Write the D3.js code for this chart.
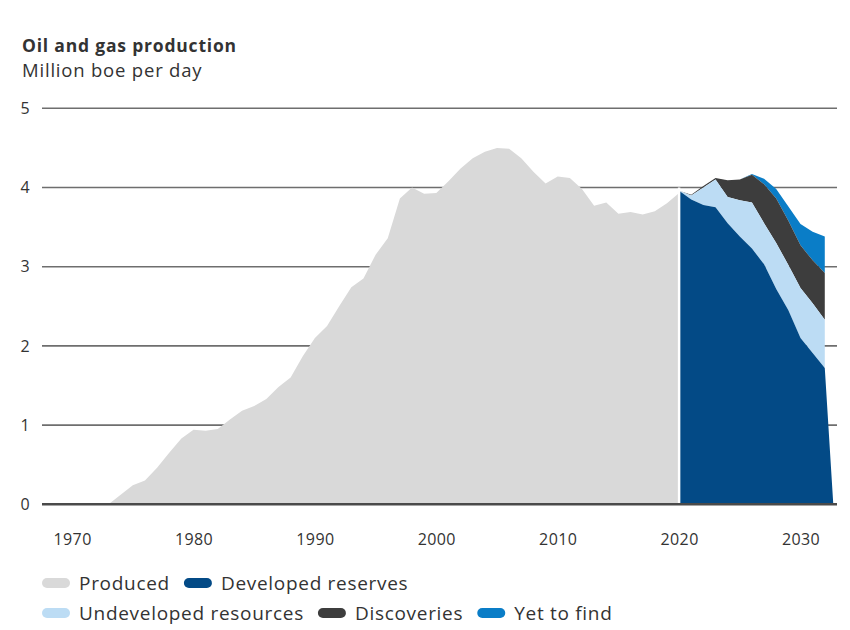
<!DOCTYPE html>
<html>
<head>
<meta charset="utf-8">
<script src="https://cdn.jsdelivr.net/npm/d3@7"></script>
<style>
  body { margin: 0; background: #fff; }
  svg { display: block; font-family: "Open Sans", Lato, sans-serif; }
</style>
</head>
<body>
<svg id="chart" width="850" height="630"></svg>
<script>
// ---------- DATA ----------
const title = "Oil and gas production";
const subtitle = "Million boe per day";
const yTicks = [0, 1, 2, 3, 4, 5];
const xTicks = [1970, 1980, 1990, 2000, 2010, 2020, 2030];

const producedYears = [1970,1971,1972,1973,1974,1975,1976,1977,1978,1979,
  1980,1981,1982,1983,1984,1985,1986,1987,1988,1989,
  1990,1991,1992,1993,1994,1995,1996,1997,1998,1999,
  2000,2001,2002,2003,2004,2005,2006,2007,2008,2009,
  2010,2011,2012,2013,2014,2015,2016,2017,2018,2019,2020];
const producedValues = [0,0,0,0,0.12,0.24,0.30,0.46,0.65,0.83,
  0.94,0.93,0.95,1.07,1.18,1.24,1.33,1.48,1.60,1.87,
  2.10,2.25,2.50,2.74,2.85,3.15,3.36,3.86,4.00,3.92,
  3.93,4.08,4.24,4.37,4.45,4.50,4.49,4.37,4.20,4.05,
  4.14,4.12,3.98,3.77,3.81,3.67,3.69,3.66,3.70,3.80,3.93];

const forecastYears = [2020,2021,2022,2023,2024,2025,2026,2027,2028,2029,2030,2031,2032];
const developedReserves    = [3.96,3.85,3.78,3.75,3.55,3.38,3.23,3.03,2.72,2.45,2.10,1.91,1.72];
const undevelopedResources = [0.00,0.05,0.22,0.35,0.33,0.46,0.58,0.52,0.58,0.57,0.63,0.63,0.61];
const discoveries          = [0.00,0.01,0.02,0.02,0.21,0.26,0.35,0.49,0.56,0.56,0.54,0.54,0.59];
const yetToFind            = [0.00,0.00,0.00,0.00,0.00,0.00,0.01,0.07,0.12,0.18,0.27,0.36,0.46];
const developedDropYear = 2032.7;   // developed reserves fall to zero here

const seriesKeys = ["developed", "undeveloped", "discoveries", "ytf"];
const legendLabels = ["Produced", "Developed reserves", "Undeveloped resources", "Discoveries", "Yet to find"];
const colors = {
  produced: "#d9d9d9",
  developed: "#034a86",
  undeveloped: "#bcdcf4",
  discoveries: "#3d3d3d",
  ytf: "#0a7dc7"
};

// ---------- SCALES ----------
const svg = d3.select("#chart");
const x = d3.scaleLinear().domain([1970, 2030]).range([72.1, 800.5]);
const y = d3.scaleLinear().domain([0, 5]).range([504.3, 108.3]);
const gridX0 = 42, gridX1 = 837;

// ---------- TITLES ----------
svg.append("text").attr("x", 22).attr("y", 52)
  .attr("font-size", 17.5).attr("font-weight", 700).attr("fill", "#333")
  .attr("letter-spacing", 0.8)
  .text(title);
svg.append("text").attr("x", 22).attr("y", 77)
  .attr("font-size", 18.5).attr("fill", "#333")
  .attr("letter-spacing", 0.8)
  .text(subtitle);

// ---------- GRID ----------
const yAxis = d3.axisLeft(y).tickValues(yTicks).tickSize(0).tickPadding(0).tickFormat(d3.format("d"));
const gy = svg.append("g").attr("transform", `translate(${gridX0},0)`).call(yAxis);
gy.select(".domain").remove();
gy.selectAll("text").attr("x", -17).attr("text-anchor", "middle")
  .attr("font-size", 16).attr("fill", "#333").attr("font-family", "'Open Sans', sans-serif");

svg.append("g").selectAll("line").data(yTicks.filter(d => d > 0)).join("line")
  .attr("x1", gridX0).attr("x2", gridX1)
  .attr("y1", d => y(d)).attr("y2", d => y(d))
  .attr("stroke", "#6e6e6e").attr("stroke-width", 1.6);

// ---------- PRODUCED ----------
const produced = producedYears.map((yr, i) => ({ year: yr, v: producedValues[i] }));
svg.append("path").datum(produced)
  .attr("fill", colors.produced)
  .attr("d", d3.area().x(d => x(d.year)).y0(y(0)).y1(d => y(d.v)));

// ---------- FORECAST (stacked) ----------
const table = forecastYears.map((yr, i) => ({
  year: yr,
  developed: developedReserves[i],
  undeveloped: undevelopedResources[i],
  discoveries: discoveries[i],
  ytf: yetToFind[i]
}));
const stacked = d3.stack().keys(seriesKeys)(table);
const area = d3.area().x(d => x(d.year)).y0(d => y(d.y0)).y1(d => y(d.y1));

stacked.slice().reverse().forEach(layer => {
  let pts = layer.map(d => ({ year: d.data.year, y0: d[0], y1: d[1] }));
  if (layer.key === "developed") pts.push({ year: developedDropYear, y0: 0, y1: 0 });
  svg.append("path").datum(pts)
    .attr("fill", colors[layer.key])
    .attr("d", area);
});

// white separator between history and forecast
svg.append("line")
  .attr("x1", x(2020)).attr("x2", x(2020))
  .attr("y1", y(0)).attr("y2", y(4.0))
  .attr("stroke", "#fff").attr("stroke-width", 2.5);

// baseline
svg.append("line").attr("x1", gridX0).attr("x2", gridX1)
  .attr("y1", y(0)).attr("y2", y(0))
  .attr("stroke", "#4a4a4a").attr("stroke-width", 2.4);

// ---------- X AXIS ----------
const xAxis = d3.axisBottom(x).tickValues(xTicks).tickSize(0).tickPadding(0).tickFormat(d3.format("d"));
const gx = svg.append("g").attr("transform", `translate(0,${y(0)})`).call(xAxis);
gx.select(".domain").remove();
gx.selectAll("text").attr("y", 29).attr("font-size", 16).attr("fill", "#333")
  .attr("letter-spacing", 0.4)
  .attr("font-family", "'Open Sans', sans-serif");

// ---------- LEGEND ----------
const legendRows = [
  [{ label: legendLabels[0], c: colors.produced }, { label: legendLabels[1], c: colors.developed }],
  [{ label: legendLabels[2], c: colors.undeveloped }, { label: legendLabels[3], c: colors.discoveries }, { label: legendLabels[4], c: colors.ytf }]
];
const rowY = [583, 613];
legendRows.forEach((row, ri) => {
  let cx = 42;
  row.forEach(item => {
    svg.append("rect").attr("x", cx).attr("y", rowY[ri] - 5).attr("width", 28).attr("height", 10)
      .attr("rx", 5).attr("fill", item.c);
    const t = svg.append("text").attr("x", cx + 37).attr("y", rowY[ri] + 6.5)
      .attr("font-size", 19).attr("letter-spacing", 0.7).attr("fill", "#333").text(item.label);
    cx = cx + 37 + t.node().getComputedTextLength() + 14;
  });
});
</script>
</body>
</html>
